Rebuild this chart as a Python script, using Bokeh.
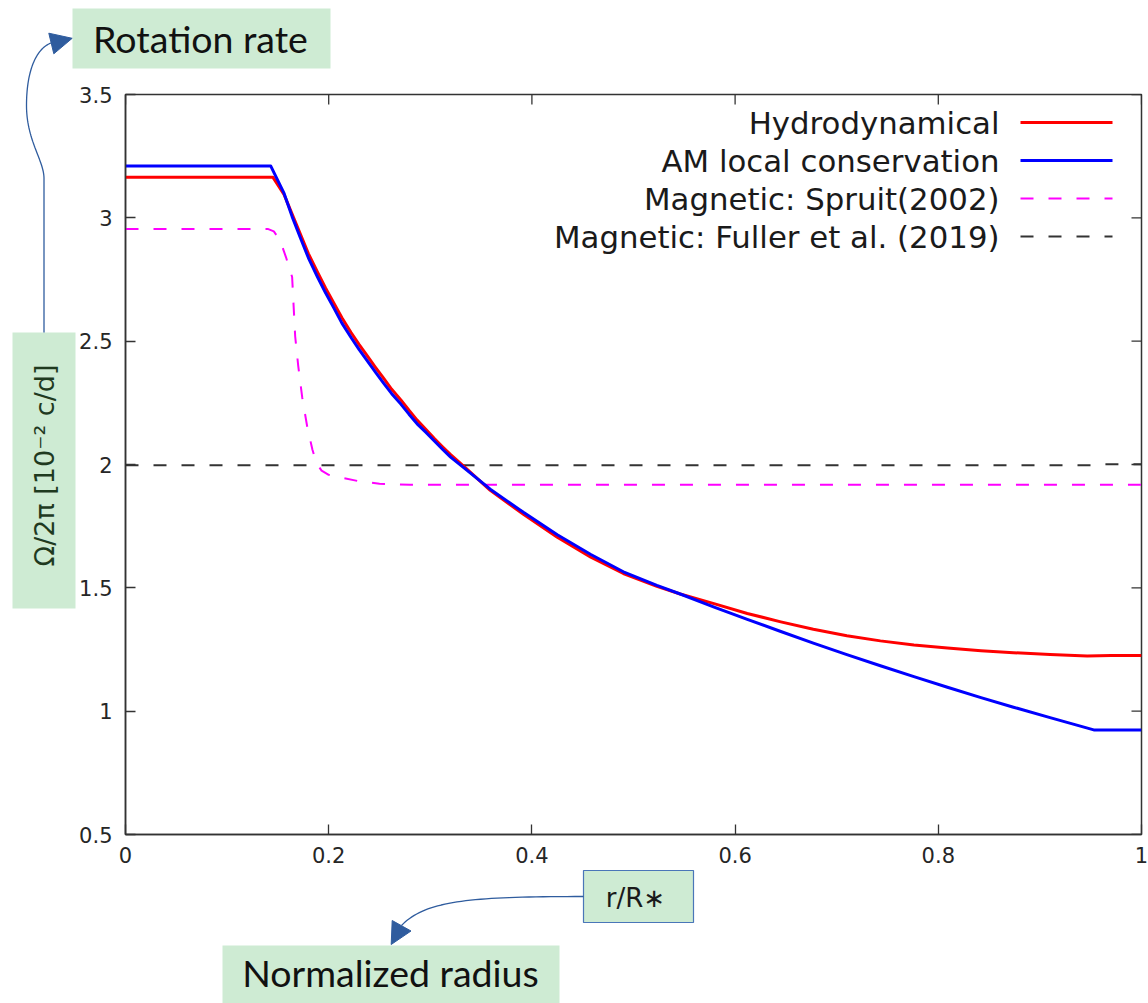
import numpy as np
from bokeh.plotting import figure
from bokeh.models import Range1d, FixedTicker, Label, Column
from bokeh.core.properties import value
from bokeh.embed import file_html
from bokeh.resources import INLINE

# Rotation profiles: Omega/2pi in units of 1e-2 c/d versus normalized radius r/R*
r_hydro = [0.0, 0.145, 0.156, 0.164, 0.172, 0.180, 0.189, 0.197, 0.205, 0.213,
           0.222, 0.230, 0.238, 0.246, 0.254, 0.262, 0.271, 0.279, 0.287, 0.296,
           0.304, 0.312, 0.320, 0.335, 0.359, 0.392, 0.425, 0.458, 0.490, 0.523,
           0.546, 0.580, 0.612, 0.645, 0.677, 0.710, 0.743, 0.776, 0.809, 0.842,
           0.874, 0.910, 0.9465, 0.970, 1.0]
omega_hydro = [3.165, 3.165, 3.095, 3.015, 2.935, 2.855, 2.780, 2.715, 2.655, 2.595,
               2.535, 2.486, 2.440, 2.394, 2.350, 2.305, 2.262, 2.220, 2.180, 2.141,
               2.105, 2.072, 2.040, 1.985, 1.895, 1.797, 1.705, 1.624, 1.558, 1.506,
               1.475, 1.435, 1.396, 1.362, 1.332, 1.306, 1.285, 1.268, 1.256, 1.245,
               1.237, 1.230, 1.224, 1.226, 1.226]

r_am = [0.0, 0.143, 0.156, 0.164, 0.172, 0.180, 0.189, 0.197, 0.205, 0.213,
        0.222, 0.230, 0.238, 0.246, 0.254, 0.262, 0.271, 0.279, 0.287, 0.296,
        0.304, 0.312, 0.320, 0.335, 0.359, 0.392, 0.425, 0.458, 0.490, 0.523,
        0.546, 0.580, 0.612, 0.645, 0.677, 0.710, 0.743, 0.776, 0.809, 0.842,
        0.874, 0.910, 0.953, 1.0]
omega_am = [3.210, 3.210, 3.100, 3.005, 2.920, 2.838, 2.760, 2.695, 2.635, 2.573,
            2.515, 2.466, 2.420, 2.374, 2.330, 2.287, 2.245, 2.204, 2.165, 2.129,
            2.095, 2.062, 2.030, 1.980, 1.900, 1.805, 1.715, 1.635, 1.565, 1.510,
            1.475, 1.421, 1.372, 1.323, 1.276, 1.229, 1.184, 1.140, 1.097, 1.055,
            1.016, 0.974, 0.924, 0.924]

r_spruit = [0.0, 0.140, 0.146, 0.152, 0.158, 0.164, 0.167, 0.170, 0.174, 0.179,
            0.184, 0.188, 0.193, 0.200, 0.212, 0.230, 0.250, 0.280, 1.0]
omega_spruit = [2.955, 2.955, 2.945, 2.910, 2.840, 2.760, 2.520, 2.400, 2.270, 2.150,
                2.060, 2.005, 1.975, 1.958, 1.947, 1.932, 1.922, 1.918, 1.918]

r_fuller = [0.0, 0.950, 0.956, 1.0]
omega_fuller = [1.997, 1.997, 2.001, 2.001]

series_names = ["Hydrodynamical", "AM local conservation",
                "Magnetic: Spruit(2002)", "Magnetic: Fuller et al. (2019)"]

x_ticks = [0, 0.2, 0.4, 0.6, 0.8, 1]
x_tick_labels = ["0", "0.2", "0.4", "0.6", "0.8", "1"]
y_ticks = [0.5, 1, 1.5, 2, 2.5, 3, 3.5]
y_tick_labels = ["0.5", "1", "1.5", "2", "2.5", "3", "3.5"]

# --- page and frame geometry (pixels) ---
W, H = 1148, 1003
F_LEFT, F_RIGHT, F_TOP, F_BOTTOM = 125, 1141, 94, 834
X0, X1, Y0, Y1 = 0.0, 1.0, 0.5, 3.5
TICK_LEN = 10


def dx(px):
    return X0 + (px - F_LEFT) * (X1 - X0) / (F_RIGHT - F_LEFT)


def dy(py):
    return Y0 + (F_BOTTOM - py) * (Y1 - Y0) / (F_BOTTOM - F_TOP)


def bezier(p0, p1, p2, p3, n=40):
    t = np.linspace(0, 1, n)[:, None]
    p0, p1, p2, p3 = map(np.asarray, (p0, p1, p2, p3))
    return ((1 - t) ** 3) * p0 + 3 * ((1 - t) ** 2) * t * p1 + 3 * (1 - t) * t ** 2 * p2 + t ** 3 * p3


AX_COLOR = "#333333"
TICK_FONT = "DejaVu Sans"
BOX_FILL = "#CEEBD3"
ARROW = "#2F5C9E"

# ---------------- main chart ----------------
p = figure(width=W, height=H, output_backend="svg", toolbar_location=None,
           x_range=Range1d(X0, X1), y_range=Range1d(Y0, Y1),
           min_border_left=F_LEFT, min_border_right=W - F_RIGHT,
           min_border_top=F_TOP, min_border_bottom=H - F_BOTTOM)
p.grid.visible = False
p.outline_line_color = AX_COLOR
p.outline_line_width = 1.5
p.background_fill_color = "white"
p.border_fill_color = "white"

p.xaxis.ticker = FixedTicker(ticks=x_ticks)
p.xaxis.major_label_overrides = dict(zip(x_ticks, x_tick_labels))
p.yaxis.ticker = FixedTicker(ticks=y_ticks)
p.yaxis.major_label_overrides = dict(zip(y_ticks, y_tick_labels))
for ax in (p.xaxis[0], p.yaxis[0]):
    ax.major_tick_in = TICK_LEN
    ax.major_tick_out = 0
    ax.minor_tick_line_color = None
    ax.axis_line_color = AX_COLOR
    ax.axis_line_width = 1.5
    ax.major_tick_line_color = AX_COLOR
    ax.major_tick_line_width = 1.3
    ax.major_label_text_font = TICK_FONT
    ax.major_label_text_font_size = "21px"
    ax.major_label_text_color = "#262626"
p.xaxis.major_label_standoff = 12
p.yaxis.major_label_standoff = 13

# mirrored ticks along the top and right edges of the frame
tick_dy = TICK_LEN * (Y1 - Y0) / (F_BOTTOM - F_TOP)
tick_dx = TICK_LEN * (X1 - X0) / (F_RIGHT - F_LEFT)
p.segment(x0=x_ticks, y0=[Y1] * len(x_ticks), x1=x_ticks, y1=[Y1 - tick_dy] * len(x_ticks),
          line_color=AX_COLOR, line_width=1.3)
p.segment(x0=[X1] * len(y_ticks), y0=y_ticks, x1=[X1 - tick_dx] * len(y_ticks), y1=y_ticks,
          line_color=AX_COLOR, line_width=1.3)

# curves
styles = [
    dict(color="#FF0000", width=3, dash="solid"),
    dict(color="#0000FF", width=3, dash="solid"),
    dict(color="#FF00FF", width=2, dash="13 15"),
    dict(color="#333333", width=2, dash="13 15"),
]
curves = [(r_hydro, omega_hydro), (r_am, omega_am),
          (r_spruit, omega_spruit), (r_fuller, omega_fuller)]
for i in [3, 2, 0, 1]:
    xs, ys = curves[i]
    st = styles[i]
    p.line(xs, ys, line_color=st["color"], line_width=st["width"],
           line_dash=st["dash"], line_join="round")

# key in the upper right: right-aligned text with line samples after it
key_rows = [122, 160, 198, 236]
for name, st, row in zip(series_names, styles, key_rows):
    p.line([dx(1020), dx(1112)], [dy(row), dy(row)], line_color=st["color"],
           line_width=st["width"], line_dash=st["dash"])
    p.add_layout(Label(x=dx(999), y=dy(row), text=name, text_align="right",
                       text_baseline="middle", text_font=TICK_FONT,
                       text_font_size="30.8px", text_color="#1a1a1a"))

# ---------------- callout layer (whole page, pixel coordinates) ----------------
q = figure(width=W, height=H, output_backend="svg", toolbar_location=None,
           x_range=Range1d(0, W), y_range=Range1d(H, 0),
           x_axis_type=None, y_axis_type=None, min_border=0)
q.grid.visible = False
q.outline_line_color = None
q.background_fill_color = None
q.border_fill_color = None

boxes_plain = dict(left=[72, 12, 222], right=[330, 75, 559],
                   top=[8, 332, 945], bottom=[68, 608, 1003])
q.quad(**boxes_plain, fill_color=BOX_FILL, line_color=None)
q.quad(left=[583], right=[693], top=[870], bottom=[922], fill_color=BOX_FILL,
       line_color="#4A76B8", line_width=1.2)

q.text(x=[200, 390], y=[38, 972], text=["Rotation rate", "Normalized radius"],
       text_align="center", text_baseline="middle", text_font=value("Lato"),
       text_font_size="37.5px", text_color="#111111")
q.text(x=[635], y=[897], text=["r/R\u2217"], text_align="center", text_baseline="middle",
       text_font=value(TICK_FONT), text_font_size="26px", text_color="#1a1a1a")
q.text(x=[44], y=[465], text=["\u03a9/2\u03c0 [10\u207b\u00b2 c/d]"], angle=np.pi / 2,
       text_align="center", text_baseline="middle", text_font=value(TICK_FONT),
       text_font_size="27px", text_color="#1f3a1f")

# curved arrows
left_path = np.vstack([
    np.array([[43.5, 332.0], [43.5, 178.0]]),
    bezier((43.5, 178), (43.5, 160), (26, 140), (26, 105)),
    bezier((26, 105), (26, 66), (38, 46), (52, 42)),
])
bottom_path = bezier((583, 896), (470, 896), (425, 900), (401, 925))
for path in (left_path, bottom_path):
    q.line(path[:, 0], path[:, 1], line_color=ARROW, line_width=1.3)
q.patches(xs=[[48.3, 71.7, 53.3], [391.7, 410.5, 390.7]],
          ys=[[32.7, 37.8, 53.3], [920.0, 930.5, 944.0]],
          fill_color=ARROW, line_color=ARROW, line_width=1)

# the callout layer sits on top of the chart, pulled up over it
overlay = Column(children=[q], margin=(-H, 0, 0, 0))
page = Column(children=[p, overlay])
open("out.html", "w").write(file_html(page, INLINE))
